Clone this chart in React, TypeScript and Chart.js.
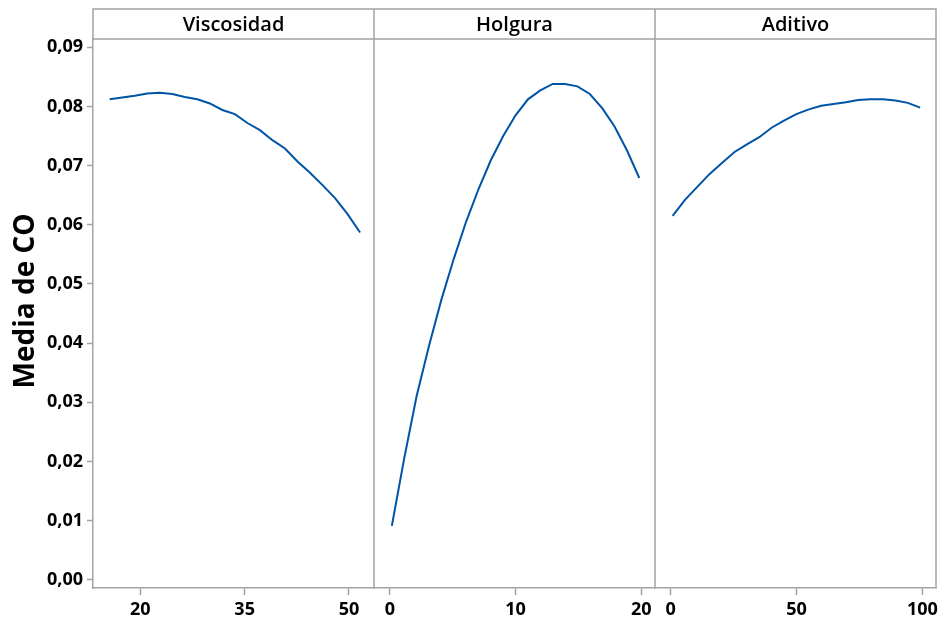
import React, { useEffect, useRef } from 'react';
import { Chart, registerables } from 'chart.js';

Chart.register(...registerables);

// ---- Data ----
const yTitle = 'Media de CO';
const panelTitles = ['Viscosidad', 'Holgura', 'Aditivo'];
const yTicks = [0, 0.01, 0.02, 0.03, 0.04, 0.05, 0.06, 0.07, 0.08, 0.09];

const viscosidadTicks = [20, 35, 50];
const viscosidadX = [15.6, 17.4, 19.2, 21.0, 22.8, 24.6, 26.4, 28.2, 30.0, 31.8, 33.6, 35.4, 37.2, 39.0, 40.8, 42.6, 44.4, 46.2, 48.0, 49.8, 51.6];
const viscosidadY = [0.0812, 0.0815, 0.0818, 0.0822, 0.0823, 0.0821, 0.0816, 0.0812, 0.0805, 0.0794, 0.0787, 0.0772, 0.0760, 0.0743, 0.0729, 0.0707, 0.0688, 0.0667, 0.0645, 0.0618, 0.0587];

const holguraTicks = [0, 10, 20];
const holguraX = [0.15, 1.135, 2.12, 3.105, 4.09, 5.075, 6.06, 7.045, 8.03, 9.015, 10.0, 10.985, 11.97, 12.955, 13.94, 14.925, 15.91, 16.895, 17.88, 18.865, 19.85];
const holguraY = [0.0091, 0.0205, 0.0310, 0.0395, 0.0473, 0.0542, 0.0605, 0.0660, 0.0709, 0.0750, 0.0785, 0.0812, 0.0827, 0.0838, 0.0838, 0.0834, 0.0821, 0.0797, 0.0766, 0.0726, 0.0679];

const aditivoTicks = [0, 50, 100];
const aditivoX = [0.8, 5.7, 10.6, 15.5, 20.5, 25.4, 30.3, 35.2, 40.1, 45.0, 49.95, 54.9, 59.8, 64.7, 69.6, 74.5, 79.4, 84.3, 89.3, 94.2, 99.1];
const aditivoY = [0.0615, 0.0642, 0.0664, 0.0686, 0.0705, 0.0723, 0.0736, 0.0748, 0.0764, 0.0776, 0.0787, 0.0795, 0.0801, 0.0804, 0.0807, 0.0811, 0.0812, 0.0812, 0.0810, 0.0806, 0.0798];

// ---- Styles ----
const LINE = '#0054A6';
const FRAME = '#a3a3a3';
const FONT = '"Open Sans", "Noto Sans", sans-serif';

const pts = (xs: number[], ys: number[]) => xs.map((x, i) => ({ x, y: ys[i] }));

const xScale = (min: number, max: number, ticks: number[]) => ({
  type: 'linear' as const,
  position: 'bottom' as const,
  stack: 'panels',
  stackWeight: 1,
  min,
  max,
  afterBuildTicks: (s: any) => {
    s.ticks = ticks.map((v) => ({ value: v }));
  },
  afterFit: (s: any) => {
    s.height = 36;
    s.paddingLeft = 0;
    s.paddingRight = 0;
  },
  grid: {
    display: true,
    drawOnChartArea: false,
    drawTicks: true,
    tickLength: 7,
    tickWidth: 1.5,
    color: FRAME,
  },
  border: { display: true, color: FRAME, width: 1.5 },
  ticks: {
    autoSkip: false,
    maxRotation: 0,
    padding: 4,
    color: '#000',
    font: { family: FONT, size: 18, weight: 'bold' as const },
    callback: (v: any) => String(v),
  },
});

const framePlugin = {
  id: 'panelFrame',
  afterDraw(chart: any) {
    const { ctx, chartArea: ca } = chart;
    const sc = [chart.scales.xV, chart.scales.xH, chart.scales.xA];
    const headTop = 9;
    ctx.save();
    ctx.strokeStyle = FRAME;
    ctx.lineWidth = 1.5;
    ctx.beginPath();
    ctx.rect(ca.left, headTop, ca.right - ca.left, ca.top - headTop);
    ctx.moveTo(ca.right, ca.top);
    ctx.lineTo(ca.right, ca.bottom);
    for (let i = 0; i < sc.length - 1; i++) {
      const x = sc[i].right;
      ctx.moveTo(x, headTop);
      ctx.lineTo(x, ca.bottom);
    }
    ctx.stroke();

    ctx.fillStyle = '#000';
    ctx.textAlign = 'center';
    ctx.textBaseline = 'middle';
    ctx.font = `600 20px ${FONT}`;
    sc.forEach((s: any, i: number) => {
      ctx.fillText(panelTitles[i], (s.left + s.right) / 2, (headTop + ca.top) / 2 + 1);
    });

    ctx.translate(26, ca.top + (ca.bottom - ca.top) * 0.477);
    ctx.rotate(-Math.PI / 2);
    ctx.font = `bold 28px ${FONT}`;
    ctx.fillText(yTitle, 0, 0);
    ctx.restore();
  },
};

export default function App() {
  const ref = useRef<HTMLCanvasElement | null>(null);

  useEffect(() => {
    if (!ref.current) return;
    const ds = (xs: number[], ys: number[], xAxisID: string) => ({
      data: pts(xs, ys),
      xAxisID,
      yAxisID: 'y',
      borderColor: LINE,
      borderWidth: 2,
      pointRadius: 0,
      tension: 0,
      fill: false,
    });
    const chart = new Chart(ref.current, {
      type: 'line',
      data: {
        datasets: [
          ds(viscosidadX, viscosidadY, 'xV'),
          ds(holguraX, holguraY, 'xH'),
          ds(aditivoX, aditivoY, 'xA'),
        ],
      },
      options: {
        animation: false,
        responsive: false,
        layout: { padding: { top: 39, right: 7, bottom: 0, left: 0 } },
        plugins: { legend: { display: false }, tooltip: { enabled: false } },
        scales: {
          y: {
            type: 'linear',
            position: 'left',
            min: -0.0014,
            max: 0.0914,
            afterBuildTicks: (s: any) => {
              s.ticks = yTicks.map((v) => ({ value: v }));
            },
            afterFit: (s: any) => {
              s.width = 93;
              s.paddingTop = 0;
              s.paddingBottom = 0;
            },
            grid: {
              display: true,
              drawOnChartArea: false,
              drawTicks: true,
              tickLength: 6,
              tickWidth: 1.5,
              color: FRAME,
            },
            border: { display: true, color: FRAME, width: 1.5 },
            ticks: {
              padding: 4,
              color: '#000',
              font: { family: FONT, size: 18, weight: 'bold' },
              callback: (v: any) => Number(v).toFixed(2).replace('.', ','),
            },
          },
          xV: xScale(13.2, 53.6, viscosidadTicks),
          xH: xScale(-1.27, 21.1, holguraTicks),
          xA: xScale(-6.2, 105.4, aditivoTicks),
        },
      },
      plugins: [framePlugin],
    });
    return () => chart.destroy();
  }, []);

  return (
    <div style={{ position: 'absolute', left: 0, top: 0, width: 943, height: 624, background: '#fff' }}>
      <canvas ref={ref} width={943} height={624} style={{ display: 'block' }} />
    </div>
  );
}
